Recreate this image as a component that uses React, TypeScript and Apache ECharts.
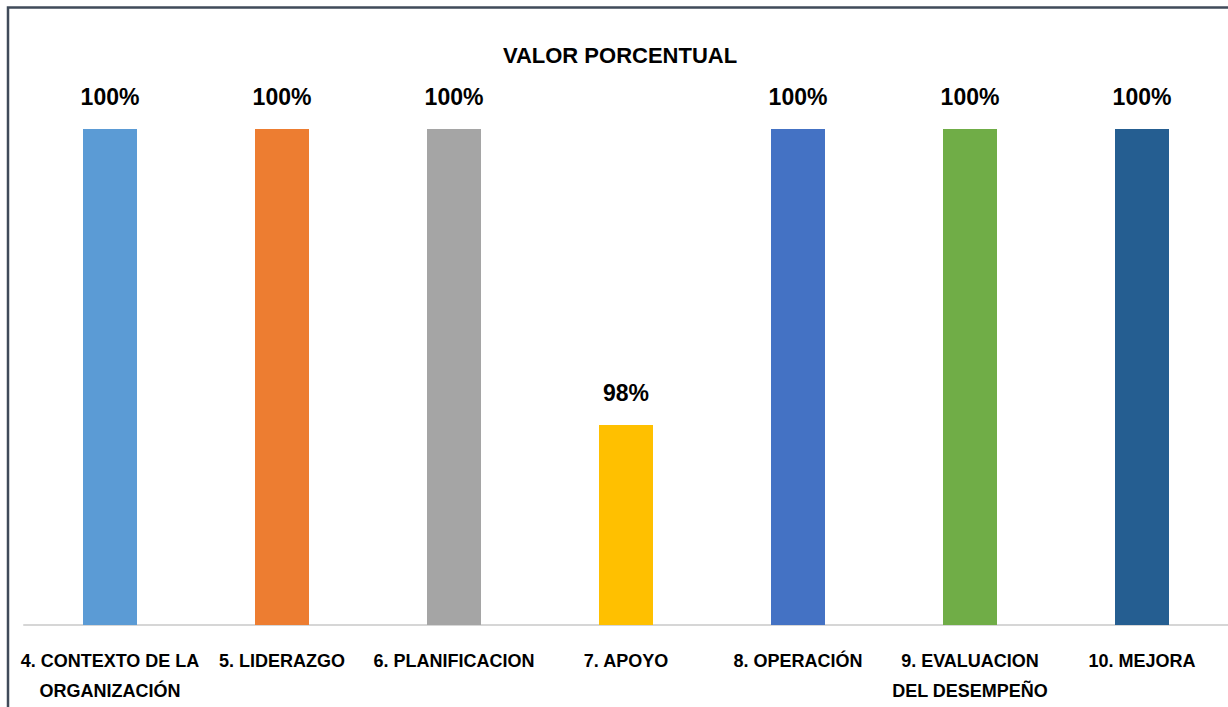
import React, { useEffect, useRef } from "react";
import * as echarts from "echarts";

const categories = [
  "4. CONTEXTO DE LA\nORGANIZACIÓN",
  "5. LIDERAZGO",
  "6. PLANIFICACION",
  "7. APOYO",
  "8. OPERACIÓN",
  "9. EVALUACION\nDEL DESEMPEÑO",
  "10. MEJORA",
];
const values = [100, 100, 100, 98, 100, 100, 100];
const barColors = ["#5b9bd5", "#ed7d31", "#a5a5a5", "#ffc000", "#4472c4", "#70ad47", "#255e91"];

const FONT = "'Liberation Sans', Arial, sans-serif";

export default function App() {
  const ref = useRef<HTMLDivElement>(null);
  useEffect(() => {
    if (!ref.current) return;
    const chart = echarts.init(ref.current, undefined, { renderer: "svg" });
    chart.setOption({
      animation: false,
      backgroundColor: "#ffffff",
      title: {
        text: "VALOR PORCENTUAL",
        left: 615,
        textAlign: "center",
        top: 39,
        textStyle: { fontFamily: FONT, fontSize: 22, fontWeight: "bold", color: "#000" },
      },
      graphic: [
        {
          type: "rect",
          shape: { x: 8, y: 7.5, width: 1240, height: 720 },
          style: { fill: "none", stroke: "#404b5a", lineWidth: 2.5 },
          silent: true,
        },
      ],
      grid: { left: 24, top: 129, width: 1208, height: 496 },
      xAxis: {
        type: "category",
        data: categories,
        axisLine: { show: true, lineStyle: { color: "#d6d6d6", width: 2 } },
        axisTick: { show: false },
        axisLabel: {
          interval: 0,
          margin: 21,
          fontFamily: FONT,
          fontSize: 18,
          fontWeight: "bold",
          color: "#000",
          lineHeight: 30,
        },
      },
      yAxis: {
        type: "value",
        min: 96.65,
        max: 100,
        show: false,
        splitLine: { show: false },
      },
      series: [
        {
          type: "bar",
          barWidth: 54,
          data: values.map((v, i) => ({ value: v, itemStyle: { color: barColors[i] } })),
          label: {
            show: true,
            position: "top",
            distance: 21,
            formatter: "{c}%",
            fontFamily: FONT,
            fontSize: 23,
            fontWeight: "bold",
            color: "#000",
          },
        },
      ],
    });
    return () => chart.dispose();
  }, []);
  return (
    <div
      ref={ref}
      style={{ position: "absolute", left: 0, top: 0, width: 1228, height: 707 }}
    />
  );
}
